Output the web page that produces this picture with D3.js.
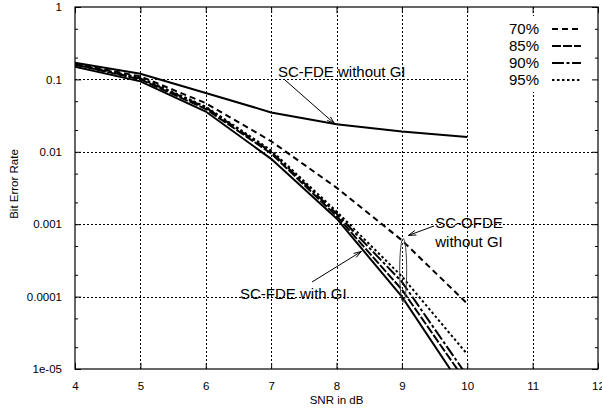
<!DOCTYPE html>
<html>
<head>
<meta charset="utf-8">
<script src="https://cdn.jsdelivr.net/npm/d3@7"></script>
<style>
  body { margin: 0; background: #fff; }
  svg { display: block; font-family: "Liberation Sans", Arial, sans-serif; }
</style>
</head>
<body>
<svg width="602" height="414"></svg>
<script>
'use strict'

// data
const SNR = [4, 5, 6, 7, 8, 9, 10];
const FDE_NO_GI = [0.17, 0.12, 0.065, 0.035, 0.024, 0.019, 0.016];
const FDE_GI = [0.15, 0.094, 0.036, 0.008, 0.0012, 0.0001, 0.0000044];
const OFDE_70 = [0.165, 0.11, 0.047, 0.014, 0.0032, 0.0006, 0.00008];
const OFDE_85 = [0.16, 0.1, 0.039, 0.0095, 0.0013, 0.000125, 0.0000063];
const OFDE_90 = [0.16, 0.103, 0.041, 0.01, 0.0014, 0.00016, 0.000008];
const OFDE_95 = [0.162, 0.106, 0.042, 0.0105, 0.0015, 0.00019, 0.000016];

const X_TICKS = [4, 5, 6, 7, 8, 9, 10, 11, 12];
const Y_TICKS = [1, 0.1, 0.01, 0.001, 0.0001, 0.00001];
const Y_TICK_LABELS = ['1', '0.1', '0.01', '0.001', '0.0001', '1e-05'];
const Y_MINOR = [0.5, 0.2, 0.05, 0.02, 0.005, 0.002, 0.0005, 0.0002, 0.00005, 0.00002];

const LEGEND = ['70%', '85%', '90%', '95%'];
const DASHES = ['6,4', '9,2', '12,2.5,3,2.5', '2.5,2.5'];

const M_LEFT = 75, M_RIGHT = 598, M_TOP = 7, M_BOTTOM = 369;

const svg = d3.select('svg');

const x = d3.scaleLinear().domain([4, 12]).range([M_LEFT, M_RIGHT]);
const y = d3.scaleLog().domain([1e-5, 1]).range([M_BOTTOM, M_TOP]);

// grid
const grid = svg.append('g')
  .attr('stroke', '#000')
  .attr('stroke-width', 1)
  .attr('stroke-dasharray', '2,2');
grid.selectAll('.gx')
  .data(X_TICKS.slice(1, -1))
  .join('line')
  .attr('x1', d => Math.round(x(d)) + 0.5)
  .attr('x2', d => Math.round(x(d)) + 0.5)
  .attr('y1', M_TOP)
  .attr('y2', M_BOTTOM);
grid.selectAll('.gy')
  .data(Y_TICKS.slice(1, -1))
  .join('line')
  .attr('x1', M_LEFT)
  .attr('x2', M_RIGHT)
  .attr('y1', d => Math.round(y(d)) + 0.5)
  .attr('y2', d => Math.round(y(d)) + 0.5);

// white area behind the key
svg.append('rect')
  .attr('x', 468).attr('y', 16)
  .attr('width', M_RIGHT - 468 - 1).attr('height', 76)
  .attr('fill', '#fff');

// axes, ticks pointing inward
function styleAxis(g) {
  g.select('.domain').remove();
  g.selectAll('.tick line').attr('stroke', '#000');
  g.selectAll('.tick text')
    .attr('fill', '#000')
    .style('font-size', '11.5px')
    .style('font-family', '"Liberation Sans", Arial, sans-serif');
}

svg.append('g')
  .attr('transform', `translate(0,${M_BOTTOM})`)
  .call(d3.axisBottom(x).tickValues(X_TICKS).tickSize(-6).tickPadding(13).tickFormat(d3.format('d')))
  .call(styleAxis);
svg.append('g')
  .attr('transform', `translate(0,${M_TOP})`)
  .call(d3.axisTop(x).tickValues(X_TICKS).tickSize(-6).tickFormat(''))
  .call(styleAxis);
svg.append('g')
  .attr('transform', `translate(${M_LEFT},0)`)
  .call(d3.axisLeft(y).tickValues(Y_TICKS).tickSize(-6).tickPadding(13)
    .tickFormat((d, i) => Y_TICK_LABELS[i]))
  .call(styleAxis);
svg.append('g')
  .attr('transform', `translate(${M_LEFT},0)`)
  .call(d3.axisLeft(y).tickValues(Y_MINOR).tickSize(-3).tickFormat(''))
  .call(styleAxis);
svg.append('g')
  .attr('transform', `translate(${M_RIGHT},0)`)
  .call(d3.axisRight(y).tickValues(Y_TICKS).tickSize(-6).tickFormat(''))
  .call(styleAxis);
svg.append('g')
  .attr('transform', `translate(${M_RIGHT},0)`)
  .call(d3.axisRight(y).tickValues(Y_MINOR).tickSize(-3).tickFormat(''))
  .call(styleAxis);

svg.append('rect')
  .attr('x', M_LEFT).attr('y', M_TOP)
  .attr('width', M_RIGHT - M_LEFT).attr('height', M_BOTTOM - M_TOP)
  .attr('fill', 'none').attr('stroke', '#000').attr('stroke-width', 1.2);

// axis titles
svg.append('text')
  .attr('x', (M_LEFT + M_RIGHT) / 2).attr('y', 404)
  .attr('text-anchor', 'middle')
  .style('font-size', '11.5px')
  .text('SNR in dB');
svg.append('text')
  .attr('transform', 'translate(18,184) rotate(-90)')
  .attr('text-anchor', 'middle')
  .style('font-size', '11.5px')
  .text('Bit Error Rate');

// curves
svg.append('clipPath').attr('id', 'plot')
  .append('rect')
  .attr('x', M_LEFT).attr('y', M_TOP)
  .attr('width', M_RIGHT - M_LEFT).attr('height', M_BOTTOM - M_TOP);

const line = d3.line()
  .x((d, i) => x(SNR[i]))
  .y(d => y(d));

const series = [
  { v: FDE_NO_GI, dash: null },
  { v: FDE_GI, dash: null },
  { v: OFDE_70, dash: DASHES[0] },
  { v: OFDE_85, dash: DASHES[1] },
  { v: OFDE_90, dash: DASHES[2] },
  { v: OFDE_95, dash: DASHES[3] }
];

svg.append('g')
  .attr('clip-path', 'url(#plot)')
  .selectAll('path')
  .data(series)
  .join('path')
  .attr('d', d => line(d.v))
  .attr('fill', 'none')
  .attr('stroke', '#000')
  .attr('stroke-width', 2)
  .attr('stroke-dasharray', d => d.dash);

// key
const key = svg.append('g');
LEGEND.forEach((t, i) => {
  const ky = 29 + i * 17;
  key.append('text')
    .attr('x', 539).attr('y', ky + 5)
    .attr('text-anchor', 'end')
    .style('font-size', '15px')
    .text(t);
  key.append('line')
    .attr('x1', 552).attr('x2', 581)
    .attr('y1', ky).attr('y2', ky)
    .attr('stroke', '#000')
    .attr('stroke-width', 2)
    .attr('stroke-dasharray', DASHES[i]);
});

// annotations
function arrow(x1, y1, x2, y2) {
  const a = Math.atan2(y2 - y1, x2 - x1);
  const len = 8, spread = 0.3;
  const p = d3.path();
  p.moveTo(x1, y1);
  p.lineTo(x2, y2);
  p.moveTo(x2 - len * Math.cos(a - spread), y2 - len * Math.sin(a - spread));
  p.lineTo(x2, y2);
  p.lineTo(x2 - len * Math.cos(a + spread), y2 - len * Math.sin(a + spread));
  svg.append('path')
    .attr('d', p.toString())
    .attr('fill', 'none')
    .attr('stroke', '#000')
    .attr('stroke-width', 1);
}

function label(tx, ty, t, anchor) {
  svg.append('text')
    .attr('x', tx).attr('y', ty)
    .attr('text-anchor', anchor || 'start')
    .style('font-size', '15px')
    .text(t);
}

label(278, 77, 'SC-FDE without GI');
arrow(285, 80, x(7.97), y(0.0245));

label(240, 299, 'SC-FDE with GI');
arrow(312, 282, x(8.38), y(0.00042));

label(469, 228, 'SC-OFDE', 'middle');
label(469, 247, 'without GI', 'middle');
arrow(434, 226, x(9.1), y(0.0007));

svg.append('ellipse')
  .attr('cx', x(9.02)).attr('cy', y(0.00023))
  .attr('rx', 3.5).attr('ry', 32)
  .attr('fill', 'none')
  .attr('stroke', '#444')
  .attr('stroke-width', 1);
</script>
</body>
</html>
